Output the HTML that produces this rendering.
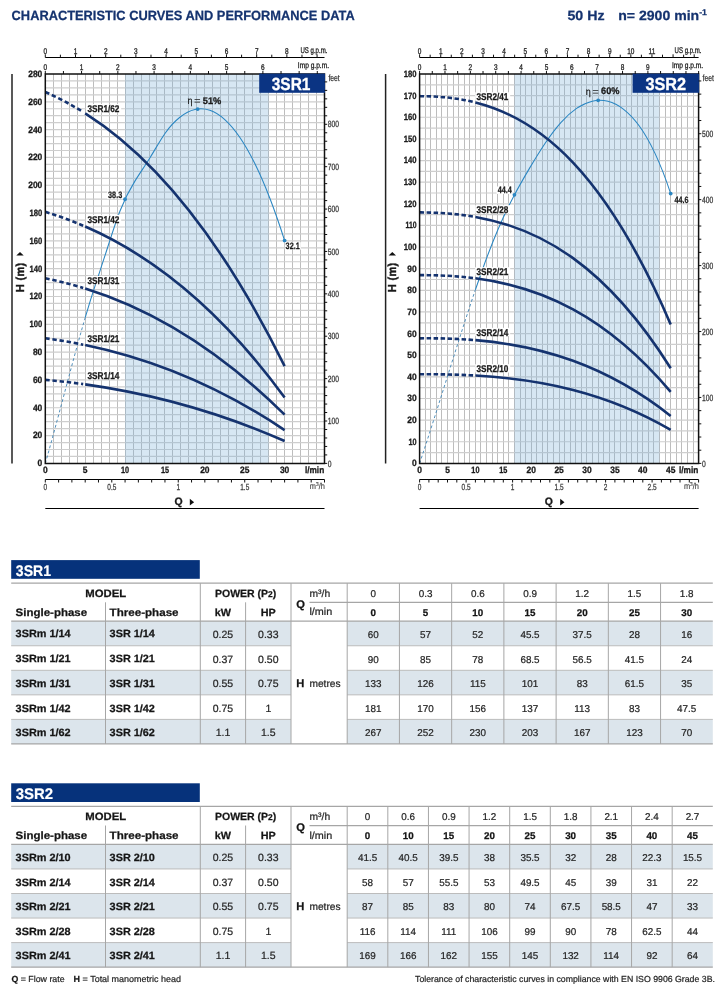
<!DOCTYPE html>
<html lang="en"><head><meta charset="utf-8"><title>Characteristic curves and performance data</title>
<style>
html,body{margin:0;padding:0;background:#fff}
body{width:723px;height:996px;position:relative;overflow:hidden;will-change:transform;font-family:"Liberation Sans", sans-serif;color:#222}
svg{position:absolute;left:0;top:0;display:block}
</style></head><body>
<svg width="723" height="996" viewBox="0 0 723 996" text-rendering="geometricPrecision" font-family='"Liberation Sans", sans-serif'>
<g id="header"><text transform="translate(11.6,19.6) scale(0.958,1)" font-size="13.4" font-weight="bold" text-anchor="start" fill="#15336f" stroke="#15336f" stroke-width="0.25">CHARACTERISTIC CURVES AND PERFORMANCE DATA</text><text transform="translate(567.4,20) scale(1.06,1)" font-size="13.4" font-weight="bold" text-anchor="start" fill="#15336f" stroke="#15336f" stroke-width="0.25">50 Hz</text><text transform="translate(706.9,20) scale(1.05,1)" font-size="13.4" font-weight="bold" text-anchor="end" fill="#15336f" stroke="#15336f" stroke-width="0.25">n= 2900 min<tspan font-size="8.3" dy="-4.6">-1</tspan><tspan dy="4.6"></tspan></text></g>
<g id="charts">
<rect x="45.3" y="74" width="279.2" height="389.4" fill="#fff"/>
<path d="M53.5,74V463.4M61.5,74V463.4M69.5,74V463.4M77.5,74V463.4M85.5,74V463.4M93.5,74V463.4M101.5,74V463.4M109.5,74V463.4M117.5,74V463.4M125.5,74V463.4M133.5,74V463.4M141.5,74V463.4M149.5,74V463.4M156.5,74V463.4M164.5,74V463.4M172.5,74V463.4M180.5,74V463.4M188.5,74V463.4M196.5,74V463.4M204.5,74V463.4M212.5,74V463.4M220.5,74V463.4M228.5,74V463.4M236.5,74V463.4M244.5,74V463.4M252.5,74V463.4M260.5,74V463.4M268.5,74V463.4M276.5,74V463.4M284.5,74V463.4M292.5,74V463.4M300.5,74V463.4M308.5,74V463.4M316.5,74V463.4" stroke="#bdbdbd" stroke-width="1" fill="none"/>
<path d="M45.3,456.45H324.5M45.3,449.49H324.5M45.3,442.54H324.5M45.3,435.59H324.5M45.3,428.63H324.5M45.3,421.68H324.5M45.3,414.72H324.5M45.3,407.77H324.5M45.3,400.82H324.5M45.3,393.86H324.5M45.3,386.91H324.5M45.3,379.96H324.5M45.3,373H324.5M45.3,366.05H324.5M45.3,359.1H324.5M45.3,352.14H324.5M45.3,345.19H324.5M45.3,338.24H324.5M45.3,331.28H324.5M45.3,324.33H324.5M45.3,317.38H324.5M45.3,310.42H324.5M45.3,303.47H324.5M45.3,296.51H324.5M45.3,289.56H324.5M45.3,282.61H324.5M45.3,275.65H324.5M45.3,268.7H324.5M45.3,261.75H324.5M45.3,254.79H324.5M45.3,247.84H324.5M45.3,240.89H324.5M45.3,233.93H324.5M45.3,226.98H324.5M45.3,220.03H324.5M45.3,213.07H324.5M45.3,206.12H324.5M45.3,199.16H324.5M45.3,192.21H324.5M45.3,185.26H324.5M45.3,178.3H324.5M45.3,171.35H324.5M45.3,164.4H324.5M45.3,157.44H324.5M45.3,150.49H324.5M45.3,143.54H324.5M45.3,136.58H324.5M45.3,129.63H324.5M45.3,122.68H324.5M45.3,115.72H324.5M45.3,108.77H324.5M45.3,101.81H324.5M45.3,94.86H324.5M45.3,87.91H324.5M45.3,80.95H324.5" stroke="#cecece" stroke-width="1.2" fill="none"/>
<rect x="125.07" y="74" width="143.59" height="389.4" fill="#7fb2d8" fill-opacity="0.31"/>
<path d="M45.3,463.4 C50.29,445.93 55.27,427.5 60.26,408.87 C65.24,390.24 70.23,371.41 75.21,353.15 C78.54,340.97 81.86,329.04 85.19,317.67" stroke="#3f85b5" stroke-width="0.9" fill="none" stroke-dasharray="2.9 2.4"/>
<path d="M85.19,317.67 C86.85,311.99 88.51,306.45 90.17,301.09 C95.16,285.02 100.14,270.58 105.13,255.19 C110.11,239.79 115.1,223.43 120.09,210.72 C125.07,198.01 130.06,188.94 135.04,180.9 C140.03,172.85 145.01,165.82 150,157.76 C154.99,149.7 159.97,140.61 164.96,133.48 C169.94,126.34 174.93,121.17 179.91,117.27 C184.9,113.37 189.89,110.74 194.87,109.56 C199.86,108.39 204.84,108.66 209.83,110.34 C214.81,112.02 219.8,115.09 224.79,119.57 C229.77,124.06 234.76,129.95 239.74,137.24 C244.73,144.53 249.71,153.22 254.7,163.31 C259.69,173.4 264.67,184.89 269.66,197.77 C274.64,210.65 279.63,224.93 284.61,240.59" stroke="#2a86c2" stroke-width="1.05" fill="none"/>
<circle cx="125.07" cy="199.13" r="1.9" fill="#2a86c2"/>
<circle cx="197.66" cy="109.06" r="1.9" fill="#2a86c2"/>
<circle cx="284.61" cy="240.59" r="1.9" fill="#2a86c2"/>
<path d="M45.3,379.84 C57.93,380.96 70.56,382.38 83.19,384.12" stroke="#15336f" stroke-width="2.6" fill="none" stroke-dasharray="4.4 2.8"/>
<path d="M85.19,384.39 C151.66,393.7 218.14,411.77 284.61,441.02" stroke="#15336f" stroke-width="2.6" fill="none"/>
<path d="M45.3,338.29 C57.93,339.97 70.56,342.08 83.19,344.66" stroke="#15336f" stroke-width="2.6" fill="none" stroke-dasharray="4.4 2.8"/>
<path d="M85.19,345.07 C151.66,358.9 218.14,385.63 284.61,430.09" stroke="#15336f" stroke-width="2.6" fill="none"/>
<path d="M45.3,278.3 C57.93,280.86 70.56,284.04 83.19,287.9" stroke="#15336f" stroke-width="2.6" fill="none" stroke-dasharray="4.4 2.8"/>
<path d="M85.19,288.52 C151.66,309.23 218.14,348.84 284.61,414.59" stroke="#15336f" stroke-width="2.6" fill="none"/>
<path d="M45.3,211.85 C57.93,215.73 70.56,220.31 83.19,225.69" stroke="#15336f" stroke-width="2.6" fill="none" stroke-dasharray="4.4 2.8"/>
<path d="M85.19,226.55 C151.66,255.34 218.14,306.68 284.61,397.49" stroke="#15336f" stroke-width="2.6" fill="none"/>
<path d="M45.3,92.01 C57.93,97.58 70.56,104.2 83.19,112.05" stroke="#15336f" stroke-width="2.6" fill="none" stroke-dasharray="4.4 2.8"/>
<path d="M85.19,113.3 C151.66,155.31 218.14,231.53 284.61,366.12" stroke="#15336f" stroke-width="2.6" fill="none"/>
<path d="M45.3,74H324.5V463.4H45.3Z" stroke="#111" stroke-width="1.5" fill="none"/>
<rect x="259.2" y="73.6" width="65.8" height="19.2" fill="#0b3483"/>
<text transform="translate(291.05,89.5) scale(0.88,1)" font-size="17.6" font-weight="bold" text-anchor="middle" fill="#fff" stroke="#fff" stroke-width="0.3">3SR1</text>
<path d="M12,74V463.4" stroke="#222" stroke-width="1.5"/>
<text transform="translate(42.3,466.3) scale(0.919,1)" font-size="9.2" font-weight="bold" text-anchor="end" fill="#1a1a1a" stroke="#1a1a1a" stroke-width="0.3">0</text>
<text transform="translate(42.3,438.49) scale(0.919,1)" font-size="9.2" font-weight="bold" text-anchor="end" fill="#1a1a1a" stroke="#1a1a1a" stroke-width="0.3">20</text>
<text transform="translate(42.3,410.67) scale(0.919,1)" font-size="9.2" font-weight="bold" text-anchor="end" fill="#1a1a1a" stroke="#1a1a1a" stroke-width="0.3">40</text>
<text transform="translate(42.3,382.86) scale(0.919,1)" font-size="9.2" font-weight="bold" text-anchor="end" fill="#1a1a1a" stroke="#1a1a1a" stroke-width="0.3">60</text>
<text transform="translate(42.3,355.04) scale(0.919,1)" font-size="9.2" font-weight="bold" text-anchor="end" fill="#1a1a1a" stroke="#1a1a1a" stroke-width="0.3">80</text>
<text transform="translate(42.3,327.23) scale(0.834,1)" font-size="9.2" font-weight="bold" text-anchor="end" fill="#1a1a1a" stroke="#1a1a1a" stroke-width="0.3">100</text>
<text transform="translate(42.3,299.41) scale(0.834,1)" font-size="9.2" font-weight="bold" text-anchor="end" fill="#1a1a1a" stroke="#1a1a1a" stroke-width="0.3">120</text>
<text transform="translate(42.3,271.6) scale(0.834,1)" font-size="9.2" font-weight="bold" text-anchor="end" fill="#1a1a1a" stroke="#1a1a1a" stroke-width="0.3">140</text>
<text transform="translate(42.3,243.79) scale(0.834,1)" font-size="9.2" font-weight="bold" text-anchor="end" fill="#1a1a1a" stroke="#1a1a1a" stroke-width="0.3">160</text>
<text transform="translate(42.3,215.97) scale(0.834,1)" font-size="9.2" font-weight="bold" text-anchor="end" fill="#1a1a1a" stroke="#1a1a1a" stroke-width="0.3">180</text>
<text transform="translate(42.3,188.16) scale(0.919,1)" font-size="9.2" font-weight="bold" text-anchor="end" fill="#1a1a1a" stroke="#1a1a1a" stroke-width="0.3">200</text>
<text transform="translate(42.3,160.34) scale(0.919,1)" font-size="9.2" font-weight="bold" text-anchor="end" fill="#1a1a1a" stroke="#1a1a1a" stroke-width="0.3">220</text>
<text transform="translate(42.3,132.53) scale(0.919,1)" font-size="9.2" font-weight="bold" text-anchor="end" fill="#1a1a1a" stroke="#1a1a1a" stroke-width="0.3">240</text>
<text transform="translate(42.3,104.71) scale(0.919,1)" font-size="9.2" font-weight="bold" text-anchor="end" fill="#1a1a1a" stroke="#1a1a1a" stroke-width="0.3">260</text>
<text transform="translate(42.3,76.9) scale(0.919,1)" font-size="9.2" font-weight="bold" text-anchor="end" fill="#1a1a1a" stroke="#1a1a1a" stroke-width="0.3">280</text>
<text transform="translate(45.3,472.7) scale(0.919,1)" font-size="9.2" font-weight="bold" text-anchor="middle" fill="#1a1a1a" stroke="#1a1a1a" stroke-width="0.3">0</text>
<text transform="translate(85.19,472.7) scale(0.919,1)" font-size="9.2" font-weight="bold" text-anchor="middle" fill="#1a1a1a" stroke="#1a1a1a" stroke-width="0.3">5</text>
<text transform="translate(125.07,472.7) scale(0.792,1)" font-size="9.2" font-weight="bold" text-anchor="middle" fill="#1a1a1a" stroke="#1a1a1a" stroke-width="0.3">10</text>
<text transform="translate(164.96,472.7) scale(0.792,1)" font-size="9.2" font-weight="bold" text-anchor="middle" fill="#1a1a1a" stroke="#1a1a1a" stroke-width="0.3">15</text>
<text transform="translate(204.84,472.7) scale(0.919,1)" font-size="9.2" font-weight="bold" text-anchor="middle" fill="#1a1a1a" stroke="#1a1a1a" stroke-width="0.3">20</text>
<text transform="translate(244.73,472.7) scale(0.919,1)" font-size="9.2" font-weight="bold" text-anchor="middle" fill="#1a1a1a" stroke="#1a1a1a" stroke-width="0.3">25</text>
<text transform="translate(284.61,472.7) scale(0.919,1)" font-size="9.2" font-weight="bold" text-anchor="middle" fill="#1a1a1a" stroke="#1a1a1a" stroke-width="0.3">30</text>
<text transform="translate(324.2,472.7) scale(0.9,1)" font-size="9.2" font-weight="bold" text-anchor="end" fill="#1a1a1a" stroke="#1a1a1a" stroke-width="0.3">l/min</text>
<rect x="86.2" y="104" width="35" height="8.3" fill="#fff"/>
<text transform="translate(87.4,112.1) scale(0.84,1)" font-size="9.8" font-weight="bold" text-anchor="start" fill="#1a1a1a" stroke="#1a1a1a" stroke-width="0.3">3SR1/62</text>
<rect x="86.2" y="214.8" width="35" height="8.3" fill="#fff"/>
<text transform="translate(87.4,222.9) scale(0.84,1)" font-size="9.8" font-weight="bold" text-anchor="start" fill="#1a1a1a" stroke="#1a1a1a" stroke-width="0.3">3SR1/42</text>
<rect x="86.2" y="276" width="35" height="8.3" fill="#fff"/>
<text transform="translate(87.4,284.1) scale(0.84,1)" font-size="9.8" font-weight="bold" text-anchor="start" fill="#1a1a1a" stroke="#1a1a1a" stroke-width="0.3">3SR1/31</text>
<rect x="86.2" y="334.2" width="35" height="8.3" fill="#fff"/>
<text transform="translate(87.4,342.3) scale(0.84,1)" font-size="9.8" font-weight="bold" text-anchor="start" fill="#1a1a1a" stroke="#1a1a1a" stroke-width="0.3">3SR1/21</text>
<rect x="86.2" y="371.2" width="35" height="8.3" fill="#fff"/>
<text transform="translate(87.4,379.3) scale(0.84,1)" font-size="9.8" font-weight="bold" text-anchor="start" fill="#1a1a1a" stroke="#1a1a1a" stroke-width="0.3">3SR1/14</text>
<rect x="107" y="191.4" width="16" height="7.4" fill="#fff"/>
<text transform="translate(122.2,198.3) scale(0.78,1)" font-size="9.3" font-weight="bold" text-anchor="end" fill="#1a1a1a" stroke="#1a1a1a" stroke-width="0.25">38.3</text>
<rect x="284.8" y="242.2" width="16" height="7.4" fill="#fff"/>
<text transform="translate(285.6,249.1) scale(0.78,1)" font-size="9.3" font-weight="bold" text-anchor="start" fill="#1a1a1a" stroke="#1a1a1a" stroke-width="0.25">32.1</text>
<text transform="translate(187.5,104) scale(0.88,1)" font-size="10.2" font-weight="normal" text-anchor="start" fill="#1a1a1a" stroke="#1a1a1a" stroke-width="0.2">η</text>
<text transform="translate(193.9,104) scale(1.18,1)" font-size="9.6" font-weight="normal" text-anchor="start" fill="#1a1a1a" >=</text>
<text transform="translate(202.8,103.7) scale(0.96,1)" font-size="9.6" font-weight="bold" text-anchor="start" fill="#1a1a1a" stroke="#1a1a1a" stroke-width="0.3">51%</text>
<path d="M45.3,57.5H324.5" stroke="#000" stroke-width="1.1"/>
<text transform="translate(45.3,54) scale(0.78,1)" font-size="8.3" font-weight="normal" text-anchor="middle" fill="#222" stroke="#222" stroke-width="0.3">0</text>
<text transform="translate(75.5,54) scale(0.78,1)" font-size="8.3" font-weight="normal" text-anchor="middle" fill="#222" stroke="#222" stroke-width="0.3">1</text>
<text transform="translate(105.69,54) scale(0.78,1)" font-size="8.3" font-weight="normal" text-anchor="middle" fill="#222" stroke="#222" stroke-width="0.3">2</text>
<text transform="translate(135.89,54) scale(0.78,1)" font-size="8.3" font-weight="normal" text-anchor="middle" fill="#222" stroke="#222" stroke-width="0.3">3</text>
<text transform="translate(166.09,54) scale(0.78,1)" font-size="8.3" font-weight="normal" text-anchor="middle" fill="#222" stroke="#222" stroke-width="0.3">4</text>
<text transform="translate(196.28,54) scale(0.78,1)" font-size="8.3" font-weight="normal" text-anchor="middle" fill="#222" stroke="#222" stroke-width="0.3">5</text>
<text transform="translate(226.48,54) scale(0.78,1)" font-size="8.3" font-weight="normal" text-anchor="middle" fill="#222" stroke="#222" stroke-width="0.3">6</text>
<text transform="translate(256.68,54) scale(0.78,1)" font-size="8.3" font-weight="normal" text-anchor="middle" fill="#222" stroke="#222" stroke-width="0.3">7</text>
<text transform="translate(286.87,54) scale(0.78,1)" font-size="8.3" font-weight="normal" text-anchor="middle" fill="#222" stroke="#222" stroke-width="0.3">8</text>
<path d="M45.3,57.5v-3.2M60.4,57.5v-2.8M75.5,57.5v-3.2M90.6,57.5v-2.8M105.69,57.5v-3.2M120.79,57.5v-2.8M135.89,57.5v-3.2M150.99,57.5v-2.8M166.09,57.5v-3.2M181.19,57.5v-2.8M196.28,57.5v-3.2M211.38,57.5v-2.8M226.48,57.5v-3.2M241.58,57.5v-2.8M256.68,57.5v-3.2M271.78,57.5v-2.8M286.87,57.5v-3.2M301.97,57.5v-2.8M317.07,57.5v-3.2" stroke="#111" stroke-width="1"/>
<text transform="translate(327.4,52.9) scale(0.73,1)" font-size="8.3" font-weight="normal" text-anchor="end" fill="#222" stroke="#222" stroke-width="0.3">US g.p.m.</text>
<text transform="translate(45.3,70.2) scale(0.78,1)" font-size="8.3" font-weight="normal" text-anchor="middle" fill="#222" stroke="#222" stroke-width="0.3">0</text>
<text transform="translate(81.56,70.2) scale(0.78,1)" font-size="8.3" font-weight="normal" text-anchor="middle" fill="#222" stroke="#222" stroke-width="0.3">1</text>
<text transform="translate(117.83,70.2) scale(0.78,1)" font-size="8.3" font-weight="normal" text-anchor="middle" fill="#222" stroke="#222" stroke-width="0.3">2</text>
<text transform="translate(154.09,70.2) scale(0.78,1)" font-size="8.3" font-weight="normal" text-anchor="middle" fill="#222" stroke="#222" stroke-width="0.3">3</text>
<text transform="translate(190.36,70.2) scale(0.78,1)" font-size="8.3" font-weight="normal" text-anchor="middle" fill="#222" stroke="#222" stroke-width="0.3">4</text>
<text transform="translate(226.62,70.2) scale(0.78,1)" font-size="8.3" font-weight="normal" text-anchor="middle" fill="#222" stroke="#222" stroke-width="0.3">5</text>
<text transform="translate(262.89,70.2) scale(0.78,1)" font-size="8.3" font-weight="normal" text-anchor="middle" fill="#222" stroke="#222" stroke-width="0.3">6</text>
<path d="M45.3,74v-3M63.43,74v-3M81.56,74v-3M99.7,74v-3M117.83,74v-3M135.96,74v-3M154.09,74v-3M172.23,74v-3M190.36,74v-3M208.49,74v-3M226.62,74v-3M244.76,74v-3M262.89,74v-3M281.02,74v-3M299.15,74v-3M317.29,74v-3" stroke="#111" stroke-width="1"/>
<text transform="translate(329,67.8) scale(0.795,1)" font-size="8.3" font-weight="normal" text-anchor="end" fill="#222" stroke="#222" stroke-width="0.3">Imp g.p.m.</text>
<text transform="translate(327.8,466.5) scale(0.75,1)" font-size="9.0" font-weight="normal" text-anchor="start" fill="#333" stroke="#333" stroke-width="0.25">0</text>
<text transform="translate(327.8,424.11) scale(0.75,1)" font-size="9.0" font-weight="normal" text-anchor="start" fill="#333" stroke="#333" stroke-width="0.25">100</text>
<text transform="translate(327.8,381.72) scale(0.75,1)" font-size="9.0" font-weight="normal" text-anchor="start" fill="#333" stroke="#333" stroke-width="0.25">200</text>
<text transform="translate(327.8,339.33) scale(0.75,1)" font-size="9.0" font-weight="normal" text-anchor="start" fill="#333" stroke="#333" stroke-width="0.25">300</text>
<text transform="translate(327.8,296.94) scale(0.75,1)" font-size="9.0" font-weight="normal" text-anchor="start" fill="#333" stroke="#333" stroke-width="0.25">400</text>
<text transform="translate(327.8,254.56) scale(0.75,1)" font-size="9.0" font-weight="normal" text-anchor="start" fill="#333" stroke="#333" stroke-width="0.25">500</text>
<text transform="translate(327.8,212.17) scale(0.75,1)" font-size="9.0" font-weight="normal" text-anchor="start" fill="#333" stroke="#333" stroke-width="0.25">600</text>
<text transform="translate(327.8,169.78) scale(0.75,1)" font-size="9.0" font-weight="normal" text-anchor="start" fill="#333" stroke="#333" stroke-width="0.25">700</text>
<text transform="translate(327.8,127.39) scale(0.75,1)" font-size="9.0" font-weight="normal" text-anchor="start" fill="#333" stroke="#333" stroke-width="0.25">800</text>
<path d="M324.5,463.4h2.7M324.5,454.92h2.7M324.5,446.44h2.7M324.5,437.97h2.7M324.5,429.49h2.7M324.5,421.01h2.7M324.5,412.53h2.7M324.5,404.06h2.7M324.5,395.58h2.7M324.5,387.1h2.7M324.5,378.62h2.7M324.5,370.14h2.7M324.5,361.67h2.7M324.5,353.19h2.7M324.5,344.71h2.7M324.5,336.23h2.7M324.5,327.76h2.7M324.5,319.28h2.7M324.5,310.8h2.7M324.5,302.32h2.7M324.5,293.84h2.7M324.5,285.37h2.7M324.5,276.89h2.7M324.5,268.41h2.7M324.5,259.93h2.7M324.5,251.46h2.7M324.5,242.98h2.7M324.5,234.5h2.7M324.5,226.02h2.7M324.5,217.54h2.7M324.5,209.07h2.7M324.5,200.59h2.7M324.5,192.11h2.7M324.5,183.63h2.7M324.5,175.15h2.7M324.5,166.68h2.7M324.5,158.2h2.7M324.5,149.72h2.7M324.5,141.24h2.7M324.5,132.77h2.7M324.5,124.29h2.7M324.5,115.81h2.7M324.5,107.33h2.7M324.5,98.85h2.7M324.5,90.38h2.7M324.5,81.9h2.7" stroke="#111" stroke-width="1"/>
<text transform="translate(328.4,80.8) scale(0.75,1)" font-size="9.0" font-weight="normal" text-anchor="start" fill="#333" stroke="#333" stroke-width="0.25">feet</text>
<path d="M45.3,479.5H324.5" stroke="#000" stroke-width="1.1"/>
<text transform="translate(45.3,489.8) scale(0.74,1)" font-size="8.8" font-weight="normal" text-anchor="middle" fill="#3a3a3a" stroke="#3a3a3a" stroke-width="0.25">0</text>
<text transform="translate(111.78,489.8) scale(0.74,1)" font-size="8.8" font-weight="normal" text-anchor="middle" fill="#3a3a3a" stroke="#3a3a3a" stroke-width="0.25">0.5</text>
<text transform="translate(178.25,489.8) scale(0.74,1)" font-size="8.8" font-weight="normal" text-anchor="middle" fill="#3a3a3a" stroke="#3a3a3a" stroke-width="0.25">1</text>
<text transform="translate(244.73,489.8) scale(0.74,1)" font-size="8.8" font-weight="normal" text-anchor="middle" fill="#3a3a3a" stroke="#3a3a3a" stroke-width="0.25">1.5</text>
<path d="M45.3,479.5v3M58.6,479.5v3M71.89,479.5v3M85.19,479.5v3M98.48,479.5v3M111.78,479.5v3M125.07,479.5v3M138.37,479.5v3M151.66,479.5v3M164.96,479.5v3M178.25,479.5v3M191.55,479.5v3M204.84,479.5v3M218.14,479.5v3M231.43,479.5v3M244.73,479.5v3M258.02,479.5v3M271.32,479.5v3M284.61,479.5v3M297.91,479.5v3M311.2,479.5v3M324.5,479.5v3" stroke="#111" stroke-width="1"/>
<text transform="translate(324.8,489.1) scale(0.86,1)" font-size="8.6" text-anchor="end" fill="#444" stroke="#444" stroke-width="0.15">m<tspan font-size="5.6" dy="-3">3</tspan><tspan dy="3">/h</tspan></text>
<text transform="translate(174.4,505.4) scale(0.97,1)" font-size="10.8" font-weight="bold" text-anchor="start" fill="#1a1a1a" stroke="#1a1a1a" stroke-width="0.3">Q</text>
<path d="M189.8,498.8v6.8l4.3,-3.4z" fill="#111"/>
<path d="M45.3,508.5H324.5" stroke="#000" stroke-width="1.1"/>
<text transform="translate(24.1,292.2) rotate(-90) scale(0.95,1)" font-size="11.6" font-weight="bold" fill="#1a1a1a" stroke="#1a1a1a" stroke-width="0.4" letter-spacing="0.35">H (m)</text>
<path d="M16.3,255.4h7.4l-3.7,-3.5z" fill="#111"/>
<rect x="419.6" y="74" width="279" height="389.4" fill="#fff"/>
<path d="M425.5,74V463.4M430.5,74V463.4M436.5,74V463.4M441.5,74V463.4M447.5,74V463.4M453.5,74V463.4M458.5,74V463.4M464.5,74V463.4M469.5,74V463.4M475.5,74V463.4M480.5,74V463.4M486.5,74V463.4M492.5,74V463.4M497.5,74V463.4M503.5,74V463.4M508.5,74V463.4M514.5,74V463.4M520.5,74V463.4M525.5,74V463.4M531.5,74V463.4M536.5,74V463.4M542.5,74V463.4M547.5,74V463.4M553.5,74V463.4M559.5,74V463.4M564.5,74V463.4M570.5,74V463.4M575.5,74V463.4M581.5,74V463.4M586.5,74V463.4M592.5,74V463.4M598.5,74V463.4M603.5,74V463.4M609.5,74V463.4M614.5,74V463.4M620.5,74V463.4M626.5,74V463.4M631.5,74V463.4M637.5,74V463.4M642.5,74V463.4M648.5,74V463.4M653.5,74V463.4M659.5,74V463.4M665.5,74V463.4M670.5,74V463.4M676.5,74V463.4M681.5,74V463.4M687.5,74V463.4M693.5,74V463.4" stroke="#bdbdbd" stroke-width="1" fill="none"/>
<path d="M419.6,452.58H698.6M419.6,441.77H698.6M419.6,430.95H698.6M419.6,420.13H698.6M419.6,409.32H698.6M419.6,398.5H698.6M419.6,387.68H698.6M419.6,376.87H698.6M419.6,366.05H698.6M419.6,355.23H698.6M419.6,344.42H698.6M419.6,333.6H698.6M419.6,322.78H698.6M419.6,311.97H698.6M419.6,301.15H698.6M419.6,290.33H698.6M419.6,279.52H698.6M419.6,268.7H698.6M419.6,257.88H698.6M419.6,247.07H698.6M419.6,236.25H698.6M419.6,225.43H698.6M419.6,214.62H698.6M419.6,203.8H698.6M419.6,192.98H698.6M419.6,182.17H698.6M419.6,171.35H698.6M419.6,160.53H698.6M419.6,149.72H698.6M419.6,138.9H698.6M419.6,128.08H698.6M419.6,117.27H698.6M419.6,106.45H698.6M419.6,95.63H698.6M419.6,84.82H698.6" stroke="#cecece" stroke-width="1.2" fill="none"/>
<rect x="514.46" y="74" width="145.08" height="389.4" fill="#7fb2d8" fill-opacity="0.31"/>
<path d="M419.6,463.4 C424.83,447.73 430.06,431.49 435.29,415.01 C440.53,398.54 445.76,381.82 450.99,365.21 C456.22,348.59 461.45,332.08 466.68,316.01 C469.59,307.09 472.49,298.31 475.4,289.76" stroke="#3f85b5" stroke-width="0.9" fill="none" stroke-dasharray="2.9 2.4"/>
<path d="M475.4,289.76 C477.73,282.91 480.05,276.22 482.38,269.71 C487.61,255.08 492.84,241.42 498.07,229.18 C503.3,216.94 508.53,206.13 513.76,196.19 C518.99,186.25 524.23,177.19 529.46,168.38 C534.69,159.58 539.92,151.04 545.15,143.25 C550.38,135.47 555.61,128.45 560.84,122.57 C566.08,116.69 571.31,111.95 576.54,108.37 C581.77,104.78 587,102.35 592.23,101.15 C597.46,99.95 602.69,99.99 607.92,101.33 C613.16,102.66 618.39,105.28 623.62,109.31 C628.85,113.34 634.08,118.77 639.31,126 C644.54,133.22 649.78,142.23 655.01,153.38 C660.24,164.52 665.47,177.81 670.7,193.57" stroke="#2a86c2" stroke-width="1.05" fill="none"/>
<circle cx="514.46" cy="194.87" r="1.9" fill="#2a86c2"/>
<circle cx="598.16" cy="100.33" r="1.9" fill="#2a86c2"/>
<circle cx="670.7" cy="193.57" r="1.9" fill="#2a86c2"/>
<path d="M419.6,374.23 C437.74,374.17 455.87,374.47 474,375.47" stroke="#15336f" stroke-width="2.6" fill="none" stroke-dasharray="4.5 2.5"/>
<path d="M475.4,375.54 C540.5,379.26 605.6,392.11 670.7,429.81" stroke="#15336f" stroke-width="2.6" fill="none"/>
<path d="M419.6,338.34 C437.74,338.15 455.87,338.59 474,340.06" stroke="#15336f" stroke-width="2.6" fill="none" stroke-dasharray="4.5 2.5"/>
<path d="M475.4,340.17 C540.5,345.64 605.6,364.53 670.7,415.96" stroke="#15336f" stroke-width="2.6" fill="none"/>
<path d="M419.6,275.15 C437.74,275.07 455.87,275.86 474,278.14" stroke="#15336f" stroke-width="2.6" fill="none" stroke-dasharray="4.5 2.5"/>
<path d="M475.4,278.32 C540.5,286.8 605.6,314.82 670.7,391.9" stroke="#15336f" stroke-width="2.6" fill="none"/>
<path d="M419.6,212.38 C437.74,212.48 455.87,213.62 474,216.69" stroke="#15336f" stroke-width="2.6" fill="none" stroke-dasharray="4.5 2.5"/>
<path d="M475.4,216.93 C540.5,228.34 605.6,264.99 670.7,368.22" stroke="#15336f" stroke-width="2.6" fill="none"/>
<path d="M419.6,96.17 C437.74,96.16 455.87,97.71 474,102.12" stroke="#15336f" stroke-width="2.6" fill="none" stroke-dasharray="4.5 2.5"/>
<path d="M475.4,102.46 C540.5,118.83 605.6,172.55 670.7,324.4" stroke="#15336f" stroke-width="2.6" fill="none"/>
<path d="M419.6,74H698.6V463.4H419.6Z" stroke="#111" stroke-width="1.5" fill="none"/>
<rect x="632.6" y="73.6" width="66.5" height="19.2" fill="#0b3483"/>
<text transform="translate(665.8,89.5) scale(0.925,1)" font-size="17.6" font-weight="bold" text-anchor="middle" fill="#fff" stroke="#fff" stroke-width="0.3">3SR2</text>
<path d="M385.6,74V463.4" stroke="#222" stroke-width="1.5"/>
<text transform="translate(416.6,466.3) scale(0.919,1)" font-size="9.2" font-weight="bold" text-anchor="end" fill="#1a1a1a" stroke="#1a1a1a" stroke-width="0.3">0</text>
<text transform="translate(416.6,444.67) scale(0.792,1)" font-size="9.2" font-weight="bold" text-anchor="end" fill="#1a1a1a" stroke="#1a1a1a" stroke-width="0.3">10</text>
<text transform="translate(416.6,423.03) scale(0.919,1)" font-size="9.2" font-weight="bold" text-anchor="end" fill="#1a1a1a" stroke="#1a1a1a" stroke-width="0.3">20</text>
<text transform="translate(416.6,401.4) scale(0.919,1)" font-size="9.2" font-weight="bold" text-anchor="end" fill="#1a1a1a" stroke="#1a1a1a" stroke-width="0.3">30</text>
<text transform="translate(416.6,379.77) scale(0.919,1)" font-size="9.2" font-weight="bold" text-anchor="end" fill="#1a1a1a" stroke="#1a1a1a" stroke-width="0.3">40</text>
<text transform="translate(416.6,358.13) scale(0.919,1)" font-size="9.2" font-weight="bold" text-anchor="end" fill="#1a1a1a" stroke="#1a1a1a" stroke-width="0.3">50</text>
<text transform="translate(416.6,336.5) scale(0.919,1)" font-size="9.2" font-weight="bold" text-anchor="end" fill="#1a1a1a" stroke="#1a1a1a" stroke-width="0.3">60</text>
<text transform="translate(416.6,314.87) scale(0.919,1)" font-size="9.2" font-weight="bold" text-anchor="end" fill="#1a1a1a" stroke="#1a1a1a" stroke-width="0.3">70</text>
<text transform="translate(416.6,293.23) scale(0.919,1)" font-size="9.2" font-weight="bold" text-anchor="end" fill="#1a1a1a" stroke="#1a1a1a" stroke-width="0.3">80</text>
<text transform="translate(416.6,271.6) scale(0.919,1)" font-size="9.2" font-weight="bold" text-anchor="end" fill="#1a1a1a" stroke="#1a1a1a" stroke-width="0.3">90</text>
<text transform="translate(416.6,249.97) scale(0.834,1)" font-size="9.2" font-weight="bold" text-anchor="end" fill="#1a1a1a" stroke="#1a1a1a" stroke-width="0.3">100</text>
<text transform="translate(416.6,228.33) scale(0.749,1)" font-size="9.2" font-weight="bold" text-anchor="end" fill="#1a1a1a" stroke="#1a1a1a" stroke-width="0.3">110</text>
<text transform="translate(416.6,206.7) scale(0.834,1)" font-size="9.2" font-weight="bold" text-anchor="end" fill="#1a1a1a" stroke="#1a1a1a" stroke-width="0.3">120</text>
<text transform="translate(416.6,185.07) scale(0.834,1)" font-size="9.2" font-weight="bold" text-anchor="end" fill="#1a1a1a" stroke="#1a1a1a" stroke-width="0.3">130</text>
<text transform="translate(416.6,163.43) scale(0.834,1)" font-size="9.2" font-weight="bold" text-anchor="end" fill="#1a1a1a" stroke="#1a1a1a" stroke-width="0.3">140</text>
<text transform="translate(416.6,141.8) scale(0.834,1)" font-size="9.2" font-weight="bold" text-anchor="end" fill="#1a1a1a" stroke="#1a1a1a" stroke-width="0.3">150</text>
<text transform="translate(416.6,120.17) scale(0.834,1)" font-size="9.2" font-weight="bold" text-anchor="end" fill="#1a1a1a" stroke="#1a1a1a" stroke-width="0.3">160</text>
<text transform="translate(416.6,98.53) scale(0.834,1)" font-size="9.2" font-weight="bold" text-anchor="end" fill="#1a1a1a" stroke="#1a1a1a" stroke-width="0.3">170</text>
<text transform="translate(416.6,76.9) scale(0.834,1)" font-size="9.2" font-weight="bold" text-anchor="end" fill="#1a1a1a" stroke="#1a1a1a" stroke-width="0.3">180</text>
<text transform="translate(419.6,472.7) scale(0.919,1)" font-size="9.2" font-weight="bold" text-anchor="middle" fill="#1a1a1a" stroke="#1a1a1a" stroke-width="0.3">0</text>
<text transform="translate(447.5,472.7) scale(0.919,1)" font-size="9.2" font-weight="bold" text-anchor="middle" fill="#1a1a1a" stroke="#1a1a1a" stroke-width="0.3">5</text>
<text transform="translate(475.4,472.7) scale(0.792,1)" font-size="9.2" font-weight="bold" text-anchor="middle" fill="#1a1a1a" stroke="#1a1a1a" stroke-width="0.3">10</text>
<text transform="translate(503.3,472.7) scale(0.792,1)" font-size="9.2" font-weight="bold" text-anchor="middle" fill="#1a1a1a" stroke="#1a1a1a" stroke-width="0.3">15</text>
<text transform="translate(531.2,472.7) scale(0.919,1)" font-size="9.2" font-weight="bold" text-anchor="middle" fill="#1a1a1a" stroke="#1a1a1a" stroke-width="0.3">20</text>
<text transform="translate(559.1,472.7) scale(0.919,1)" font-size="9.2" font-weight="bold" text-anchor="middle" fill="#1a1a1a" stroke="#1a1a1a" stroke-width="0.3">25</text>
<text transform="translate(587,472.7) scale(0.919,1)" font-size="9.2" font-weight="bold" text-anchor="middle" fill="#1a1a1a" stroke="#1a1a1a" stroke-width="0.3">30</text>
<text transform="translate(614.9,472.7) scale(0.919,1)" font-size="9.2" font-weight="bold" text-anchor="middle" fill="#1a1a1a" stroke="#1a1a1a" stroke-width="0.3">35</text>
<text transform="translate(642.8,472.7) scale(0.919,1)" font-size="9.2" font-weight="bold" text-anchor="middle" fill="#1a1a1a" stroke="#1a1a1a" stroke-width="0.3">40</text>
<text transform="translate(670.7,472.7) scale(0.919,1)" font-size="9.2" font-weight="bold" text-anchor="middle" fill="#1a1a1a" stroke="#1a1a1a" stroke-width="0.3">45</text>
<text transform="translate(698.3,472.7) scale(0.9,1)" font-size="9.2" font-weight="bold" text-anchor="end" fill="#1a1a1a" stroke="#1a1a1a" stroke-width="0.3">l/min</text>
<rect x="475.2" y="92.3" width="35" height="8.3" fill="#fff"/>
<text transform="translate(476.4,100.4) scale(0.84,1)" font-size="9.8" font-weight="bold" text-anchor="start" fill="#1a1a1a" stroke="#1a1a1a" stroke-width="0.3">3SR2/41</text>
<rect x="475.2" y="205.2" width="35" height="8.3" fill="#fff"/>
<text transform="translate(476.4,213.3) scale(0.84,1)" font-size="9.8" font-weight="bold" text-anchor="start" fill="#1a1a1a" stroke="#1a1a1a" stroke-width="0.3">3SR2/28</text>
<rect x="475.2" y="267.2" width="35" height="8.3" fill="#fff"/>
<text transform="translate(476.4,275.3) scale(0.84,1)" font-size="9.8" font-weight="bold" text-anchor="start" fill="#1a1a1a" stroke="#1a1a1a" stroke-width="0.3">3SR2/21</text>
<rect x="475.2" y="327.8" width="35" height="8.3" fill="#fff"/>
<text transform="translate(476.4,335.9) scale(0.84,1)" font-size="9.8" font-weight="bold" text-anchor="start" fill="#1a1a1a" stroke="#1a1a1a" stroke-width="0.3">3SR2/14</text>
<rect x="475.2" y="364.2" width="35" height="8.3" fill="#fff"/>
<text transform="translate(476.4,372.3) scale(0.84,1)" font-size="9.8" font-weight="bold" text-anchor="start" fill="#1a1a1a" stroke="#1a1a1a" stroke-width="0.3">3SR2/10</text>
<rect x="496.6" y="186.5" width="16" height="7.4" fill="#fff"/>
<text transform="translate(511.8,193.4) scale(0.78,1)" font-size="9.3" font-weight="bold" text-anchor="end" fill="#1a1a1a" stroke="#1a1a1a" stroke-width="0.25">44.4</text>
<rect x="673.7" y="195.7" width="16" height="7.4" fill="#fff"/>
<text transform="translate(674.5,202.6) scale(0.78,1)" font-size="9.3" font-weight="bold" text-anchor="start" fill="#1a1a1a" stroke="#1a1a1a" stroke-width="0.25">44.6</text>
<text transform="translate(585.8,94.7) scale(0.88,1)" font-size="10.2" font-weight="normal" text-anchor="start" fill="#1a1a1a" stroke="#1a1a1a" stroke-width="0.2">η</text>
<text transform="translate(592.2,94.7) scale(1.18,1)" font-size="9.6" font-weight="normal" text-anchor="start" fill="#1a1a1a" >=</text>
<text transform="translate(601.1,94.4) scale(0.96,1)" font-size="9.6" font-weight="bold" text-anchor="start" fill="#1a1a1a" stroke="#1a1a1a" stroke-width="0.3">60%</text>
<path d="M419.6,57.5H698.6" stroke="#000" stroke-width="1.1"/>
<text transform="translate(419.6,54) scale(0.78,1)" font-size="8.3" font-weight="normal" text-anchor="middle" fill="#222" stroke="#222" stroke-width="0.3">0</text>
<text transform="translate(440.72,54) scale(0.78,1)" font-size="8.3" font-weight="normal" text-anchor="middle" fill="#222" stroke="#222" stroke-width="0.3">1</text>
<text transform="translate(461.85,54) scale(0.78,1)" font-size="8.3" font-weight="normal" text-anchor="middle" fill="#222" stroke="#222" stroke-width="0.3">2</text>
<text transform="translate(482.97,54) scale(0.78,1)" font-size="8.3" font-weight="normal" text-anchor="middle" fill="#222" stroke="#222" stroke-width="0.3">3</text>
<text transform="translate(504.09,54) scale(0.78,1)" font-size="8.3" font-weight="normal" text-anchor="middle" fill="#222" stroke="#222" stroke-width="0.3">4</text>
<text transform="translate(525.21,54) scale(0.78,1)" font-size="8.3" font-weight="normal" text-anchor="middle" fill="#222" stroke="#222" stroke-width="0.3">5</text>
<text transform="translate(546.34,54) scale(0.78,1)" font-size="8.3" font-weight="normal" text-anchor="middle" fill="#222" stroke="#222" stroke-width="0.3">6</text>
<text transform="translate(567.46,54) scale(0.78,1)" font-size="8.3" font-weight="normal" text-anchor="middle" fill="#222" stroke="#222" stroke-width="0.3">7</text>
<text transform="translate(588.58,54) scale(0.78,1)" font-size="8.3" font-weight="normal" text-anchor="middle" fill="#222" stroke="#222" stroke-width="0.3">8</text>
<text transform="translate(609.7,54) scale(0.78,1)" font-size="8.3" font-weight="normal" text-anchor="middle" fill="#222" stroke="#222" stroke-width="0.3">9</text>
<text transform="translate(630.83,54) scale(0.78,1)" font-size="8.3" font-weight="normal" text-anchor="middle" fill="#222" stroke="#222" stroke-width="0.3">10</text>
<text transform="translate(651.95,54) scale(0.78,1)" font-size="8.3" font-weight="normal" text-anchor="middle" fill="#222" stroke="#222" stroke-width="0.3">11</text>
<path d="M419.6,57.5v-3.2M430.16,57.5v-2.8M440.72,57.5v-3.2M451.28,57.5v-2.8M461.85,57.5v-3.2M472.41,57.5v-2.8M482.97,57.5v-3.2M493.53,57.5v-2.8M504.09,57.5v-3.2M514.65,57.5v-2.8M525.21,57.5v-3.2M535.77,57.5v-2.8M546.34,57.5v-3.2M556.9,57.5v-2.8M567.46,57.5v-3.2M578.02,57.5v-2.8M588.58,57.5v-3.2M599.14,57.5v-2.8M609.7,57.5v-3.2M620.26,57.5v-2.8M630.83,57.5v-3.2M641.39,57.5v-2.8M651.95,57.5v-3.2M662.51,57.5v-2.8M673.07,57.5v-3.2M683.63,57.5v-2.8M694.19,57.5v-3.2" stroke="#111" stroke-width="1"/>
<text transform="translate(701.5,52.9) scale(0.73,1)" font-size="8.3" font-weight="normal" text-anchor="end" fill="#222" stroke="#222" stroke-width="0.3">US g.p.m.</text>
<text transform="translate(419.6,70.2) scale(0.78,1)" font-size="8.3" font-weight="normal" text-anchor="middle" fill="#222" stroke="#222" stroke-width="0.3">0</text>
<text transform="translate(444.97,70.2) scale(0.78,1)" font-size="8.3" font-weight="normal" text-anchor="middle" fill="#222" stroke="#222" stroke-width="0.3">1</text>
<text transform="translate(470.33,70.2) scale(0.78,1)" font-size="8.3" font-weight="normal" text-anchor="middle" fill="#222" stroke="#222" stroke-width="0.3">2</text>
<text transform="translate(495.7,70.2) scale(0.78,1)" font-size="8.3" font-weight="normal" text-anchor="middle" fill="#222" stroke="#222" stroke-width="0.3">3</text>
<text transform="translate(521.07,70.2) scale(0.78,1)" font-size="8.3" font-weight="normal" text-anchor="middle" fill="#222" stroke="#222" stroke-width="0.3">4</text>
<text transform="translate(546.44,70.2) scale(0.78,1)" font-size="8.3" font-weight="normal" text-anchor="middle" fill="#222" stroke="#222" stroke-width="0.3">5</text>
<text transform="translate(571.8,70.2) scale(0.78,1)" font-size="8.3" font-weight="normal" text-anchor="middle" fill="#222" stroke="#222" stroke-width="0.3">6</text>
<text transform="translate(597.17,70.2) scale(0.78,1)" font-size="8.3" font-weight="normal" text-anchor="middle" fill="#222" stroke="#222" stroke-width="0.3">7</text>
<text transform="translate(622.54,70.2) scale(0.78,1)" font-size="8.3" font-weight="normal" text-anchor="middle" fill="#222" stroke="#222" stroke-width="0.3">8</text>
<text transform="translate(647.9,70.2) scale(0.78,1)" font-size="8.3" font-weight="normal" text-anchor="middle" fill="#222" stroke="#222" stroke-width="0.3">9</text>
<path d="M419.6,74v-3M432.28,74v-3M444.97,74v-3M457.65,74v-3M470.33,74v-3M483.02,74v-3M495.7,74v-3M508.39,74v-3M521.07,74v-3M533.75,74v-3M546.44,74v-3M559.12,74v-3M571.8,74v-3M584.49,74v-3M597.17,74v-3M609.85,74v-3M622.54,74v-3M635.22,74v-3M647.9,74v-3M660.59,74v-3M673.27,74v-3M685.96,74v-3M698.64,74v-3" stroke="#111" stroke-width="1"/>
<text transform="translate(703.1,67.8) scale(0.795,1)" font-size="8.3" font-weight="normal" text-anchor="end" fill="#222" stroke="#222" stroke-width="0.3">Imp g.p.m.</text>
<text transform="translate(701.9,466.5) scale(0.75,1)" font-size="9.0" font-weight="normal" text-anchor="start" fill="#333" stroke="#333" stroke-width="0.25">0</text>
<text transform="translate(701.9,400.56) scale(0.75,1)" font-size="9.0" font-weight="normal" text-anchor="start" fill="#333" stroke="#333" stroke-width="0.25">100</text>
<text transform="translate(701.9,334.62) scale(0.75,1)" font-size="9.0" font-weight="normal" text-anchor="start" fill="#333" stroke="#333" stroke-width="0.25">200</text>
<text transform="translate(701.9,268.68) scale(0.75,1)" font-size="9.0" font-weight="normal" text-anchor="start" fill="#333" stroke="#333" stroke-width="0.25">300</text>
<text transform="translate(701.9,202.75) scale(0.75,1)" font-size="9.0" font-weight="normal" text-anchor="start" fill="#333" stroke="#333" stroke-width="0.25">400</text>
<text transform="translate(701.9,136.81) scale(0.75,1)" font-size="9.0" font-weight="normal" text-anchor="start" fill="#333" stroke="#333" stroke-width="0.25">500</text>
<path d="M698.6,463.4h2.7M698.6,450.21h2.7M698.6,437.02h2.7M698.6,423.84h2.7M698.6,410.65h2.7M698.6,397.46h2.7M698.6,384.27h2.7M698.6,371.09h2.7M698.6,357.9h2.7M698.6,344.71h2.7M698.6,331.52h2.7M698.6,318.34h2.7M698.6,305.15h2.7M698.6,291.96h2.7M698.6,278.77h2.7M698.6,265.58h2.7M698.6,252.4h2.7M698.6,239.21h2.7M698.6,226.02h2.7M698.6,212.83h2.7M698.6,199.65h2.7M698.6,186.46h2.7M698.6,173.27h2.7M698.6,160.08h2.7M698.6,146.9h2.7M698.6,133.71h2.7M698.6,120.52h2.7M698.6,107.33h2.7M698.6,94.14h2.7M698.6,80.96h2.7" stroke="#111" stroke-width="1"/>
<text transform="translate(702.5,80.8) scale(0.75,1)" font-size="9.0" font-weight="normal" text-anchor="start" fill="#333" stroke="#333" stroke-width="0.25">feet</text>
<path d="M419.6,479.5H698.6" stroke="#000" stroke-width="1.1"/>
<text transform="translate(419.6,489.8) scale(0.74,1)" font-size="8.8" font-weight="normal" text-anchor="middle" fill="#3a3a3a" stroke="#3a3a3a" stroke-width="0.25">0</text>
<text transform="translate(466.1,489.8) scale(0.74,1)" font-size="8.8" font-weight="normal" text-anchor="middle" fill="#3a3a3a" stroke="#3a3a3a" stroke-width="0.25">0.5</text>
<text transform="translate(512.6,489.8) scale(0.74,1)" font-size="8.8" font-weight="normal" text-anchor="middle" fill="#3a3a3a" stroke="#3a3a3a" stroke-width="0.25">1</text>
<text transform="translate(559.1,489.8) scale(0.74,1)" font-size="8.8" font-weight="normal" text-anchor="middle" fill="#3a3a3a" stroke="#3a3a3a" stroke-width="0.25">1.5</text>
<text transform="translate(605.6,489.8) scale(0.74,1)" font-size="8.8" font-weight="normal" text-anchor="middle" fill="#3a3a3a" stroke="#3a3a3a" stroke-width="0.25">2</text>
<text transform="translate(652.1,489.8) scale(0.74,1)" font-size="8.8" font-weight="normal" text-anchor="middle" fill="#3a3a3a" stroke="#3a3a3a" stroke-width="0.25">2.5</text>
<path d="M419.6,479.5v3M428.9,479.5v3M438.2,479.5v3M447.5,479.5v3M456.8,479.5v3M466.1,479.5v3M475.4,479.5v3M484.7,479.5v3M494,479.5v3M503.3,479.5v3M512.6,479.5v3M521.9,479.5v3M531.2,479.5v3M540.5,479.5v3M549.8,479.5v3M559.1,479.5v3M568.4,479.5v3M577.7,479.5v3M587,479.5v3M596.3,479.5v3M605.6,479.5v3M614.9,479.5v3M624.2,479.5v3M633.5,479.5v3M642.8,479.5v3M652.1,479.5v3M661.4,479.5v3M670.7,479.5v3M680,479.5v3M689.3,479.5v3M698.6,479.5v3" stroke="#111" stroke-width="1"/>
<text transform="translate(698.9,489.1) scale(0.86,1)" font-size="8.6" text-anchor="end" fill="#444" stroke="#444" stroke-width="0.15">m<tspan font-size="5.6" dy="-3">3</tspan><tspan dy="3">/h</tspan></text>
<text transform="translate(544.8,505.4) scale(0.97,1)" font-size="10.8" font-weight="bold" text-anchor="start" fill="#1a1a1a" stroke="#1a1a1a" stroke-width="0.3">Q</text>
<path d="M560.2,498.8v6.8l4.3,-3.4z" fill="#111"/>
<path d="M419.6,508.5H698.6" stroke="#000" stroke-width="1.1"/>
<text transform="translate(396.4,292.2) rotate(-90) scale(0.95,1)" font-size="11.6" font-weight="bold" fill="#1a1a1a" stroke="#1a1a1a" stroke-width="0.4" letter-spacing="0.35">H (m)</text>
<path d="M388.6,255.4h7.4l-3.7,-3.5z" fill="#111"/>
</g>
<g id="table-3sr1"><rect x="11.2" y="560.1" width="188.6" height="18.7" fill="#06327b"/><rect x="11.2" y="621.2" width="279.8" height="24.55" fill="#dce5ec"/><rect x="347.2" y="621.2" width="365.6" height="24.55" fill="#dce5ec"/><rect x="11.2" y="670.3" width="279.8" height="24.55" fill="#dce5ec"/><rect x="347.2" y="670.3" width="365.6" height="24.55" fill="#dce5ec"/><rect x="11.2" y="719.4" width="279.8" height="24.55" fill="#dce5ec"/><rect x="347.2" y="719.4" width="365.6" height="24.55" fill="#dce5ec"/><path d="M11.2,645.75H291.0M347.2,645.75H712.8M11.2,670.3H291.0M347.2,670.3H712.8M11.2,694.85H291.0M347.2,694.85H712.8M11.2,719.4H291.0M347.2,719.4H712.8" stroke="#bcbcbc" stroke-width="1" fill="none"/><path d="M11.2,583.2H712.8M11.2,621.2H712.8M11.2,743.95H712.8M309.5,602.3H712.8" stroke="#a6a6a6" stroke-width="1.25" fill="none"/><path d="M105.5,602.3V743.95M245.6,602.3V743.95M200.3,583.2V743.95M291.0,583.2V743.95M347.2,583.2V743.95M399.43,583.2V743.95M451.66,583.2V743.95M503.89,583.2V743.95M556.11,583.2V743.95M608.34,583.2V743.95M660.57,583.2V743.95" stroke="#a6a6a6" stroke-width="1" fill="none"/>
<text transform="translate(15.8,575.8) scale(0.92,1)" font-size="15.3" font-weight="bold" text-anchor="start" fill="#fff" stroke="#fff" stroke-width="0.20">3SR1</text>
<text transform="translate(105.75,596.9) scale(1.06,1)" font-size="10.7" font-weight="bold" text-anchor="middle" fill="#151515" stroke="#151515" stroke-width="0.25">MODEL</text>
<text transform="translate(15.6,616) scale(1.075,1)" font-size="10.7" font-weight="bold" text-anchor="start" fill="#151515" stroke="#151515" stroke-width="0.25">Single-phase</text>
<text transform="translate(109.6,616) scale(1.085,1)" font-size="10.7" font-weight="bold" text-anchor="start" fill="#151515" stroke="#151515" stroke-width="0.25">Three-phase</text>
<text transform="translate(245.65,596.9) scale(1.0,1)" font-size="10.5" font-weight="bold" text-anchor="middle" fill="#151515" stroke="#151515" stroke-width="0.25">POWER (P<tspan font-size="8.4">2</tspan>)</text>
<text transform="translate(222.95,615.6) scale(1.03,1)" font-size="10.5" font-weight="bold" text-anchor="middle" fill="#151515" stroke="#151515" stroke-width="0.25">kW</text>
<text transform="translate(268.3,615.6) scale(1.03,1)" font-size="10.5" font-weight="bold" text-anchor="middle" fill="#151515" stroke="#151515" stroke-width="0.25">HP</text>
<text transform="translate(296.3,607.5) scale(1.0,1)" font-size="11.2" font-weight="bold" text-anchor="start" fill="#151515" stroke="#151515" stroke-width="0.25">Q</text>
<text transform="translate(309.4,597.1) scale(1.0,1)" font-size="10.3" text-anchor="start" fill="#262626" stroke="#262626" stroke-width="0.22">m<tspan font-size="6.4" dy="-3.6">3</tspan><tspan dy="3.6">/h</tspan></text>
<text transform="translate(309.4,615.4) scale(1.05,1)" font-size="10.3" text-anchor="start" fill="#262626" stroke="#262626" stroke-width="0.22">l/min</text>
<text transform="translate(296.3,686.8) scale(1.0,1)" font-size="11.2" font-weight="bold" text-anchor="start" fill="#151515" stroke="#151515" stroke-width="0.25">H</text>
<text transform="translate(309.4,686.8) scale(0.99,1)" font-size="10.3" text-anchor="start" fill="#262626" stroke="#262626" stroke-width="0.22">metres</text>
<text transform="translate(373.31,597) scale(1.0,1)" font-size="9.9" text-anchor="middle" fill="#262626" stroke="#262626" stroke-width="0.22">0</text>
<text transform="translate(373.31,615.9) scale(1.0,1)" font-size="9.8" font-weight="bold" text-anchor="middle" fill="#151515" stroke="#151515" stroke-width="0.25">0</text>
<text transform="translate(425.54,597) scale(1.0,1)" font-size="9.9" text-anchor="middle" fill="#262626" stroke="#262626" stroke-width="0.22">0.3</text>
<text transform="translate(425.54,615.9) scale(1.0,1)" font-size="9.8" font-weight="bold" text-anchor="middle" fill="#151515" stroke="#151515" stroke-width="0.25">5</text>
<text transform="translate(477.77,597) scale(1.0,1)" font-size="9.9" text-anchor="middle" fill="#262626" stroke="#262626" stroke-width="0.22">0.6</text>
<text transform="translate(477.77,615.9) scale(1.0,1)" font-size="9.8" font-weight="bold" text-anchor="middle" fill="#151515" stroke="#151515" stroke-width="0.25">10</text>
<text transform="translate(530,597) scale(1.0,1)" font-size="9.9" text-anchor="middle" fill="#262626" stroke="#262626" stroke-width="0.22">0.9</text>
<text transform="translate(530,615.9) scale(1.0,1)" font-size="9.8" font-weight="bold" text-anchor="middle" fill="#151515" stroke="#151515" stroke-width="0.25">15</text>
<text transform="translate(582.23,597) scale(1.0,1)" font-size="9.9" text-anchor="middle" fill="#262626" stroke="#262626" stroke-width="0.22">1.2</text>
<text transform="translate(582.23,615.9) scale(1.0,1)" font-size="9.8" font-weight="bold" text-anchor="middle" fill="#151515" stroke="#151515" stroke-width="0.25">20</text>
<text transform="translate(634.46,597) scale(1.0,1)" font-size="9.9" text-anchor="middle" fill="#262626" stroke="#262626" stroke-width="0.22">1.5</text>
<text transform="translate(634.46,615.9) scale(1.0,1)" font-size="9.8" font-weight="bold" text-anchor="middle" fill="#151515" stroke="#151515" stroke-width="0.25">25</text>
<text transform="translate(686.69,597) scale(1.0,1)" font-size="9.9" text-anchor="middle" fill="#262626" stroke="#262626" stroke-width="0.22">1.8</text>
<text transform="translate(686.69,615.9) scale(1.0,1)" font-size="9.8" font-weight="bold" text-anchor="middle" fill="#151515" stroke="#151515" stroke-width="0.25">30</text>
<text transform="translate(15.6,637.4) scale(1.035,1)" font-size="10.5" font-weight="bold" text-anchor="start" fill="#151515" stroke="#151515" stroke-width="0.25">3SRm 1/14</text>
<text transform="translate(109.6,637.4) scale(1.035,1)" font-size="10.5" font-weight="bold" text-anchor="start" fill="#151515" stroke="#151515" stroke-width="0.25">3SR 1/14</text>
<text transform="translate(222.95,637.7) scale(1.0,1)" font-size="10.5" text-anchor="middle" fill="#262626" stroke="#262626" stroke-width="0.22">0.25</text>
<text transform="translate(268.3,637.7) scale(1.0,1)" font-size="10.5" text-anchor="middle" fill="#262626" stroke="#262626" stroke-width="0.22">0.33</text>
<text transform="translate(373.31,637.7) scale(1.0,1)" font-size="9.9" text-anchor="middle" fill="#262626" stroke="#262626" stroke-width="0.22">60</text>
<text transform="translate(425.54,637.7) scale(1.0,1)" font-size="9.9" text-anchor="middle" fill="#262626" stroke="#262626" stroke-width="0.22">57</text>
<text transform="translate(477.77,637.7) scale(1.0,1)" font-size="9.9" text-anchor="middle" fill="#262626" stroke="#262626" stroke-width="0.22">52</text>
<text transform="translate(530,637.7) scale(1.0,1)" font-size="9.9" text-anchor="middle" fill="#262626" stroke="#262626" stroke-width="0.22">45.5</text>
<text transform="translate(582.23,637.7) scale(1.0,1)" font-size="9.9" text-anchor="middle" fill="#262626" stroke="#262626" stroke-width="0.22">37.5</text>
<text transform="translate(634.46,637.7) scale(1.0,1)" font-size="9.9" text-anchor="middle" fill="#262626" stroke="#262626" stroke-width="0.22">28</text>
<text transform="translate(686.69,637.7) scale(1.0,1)" font-size="9.9" text-anchor="middle" fill="#262626" stroke="#262626" stroke-width="0.22">16</text>
<text transform="translate(15.6,662.45) scale(1.035,1)" font-size="10.5" font-weight="bold" text-anchor="start" fill="#151515" stroke="#151515" stroke-width="0.25">3SRm 1/21</text>
<text transform="translate(109.6,662.45) scale(1.035,1)" font-size="10.5" font-weight="bold" text-anchor="start" fill="#151515" stroke="#151515" stroke-width="0.25">3SR 1/21</text>
<text transform="translate(222.95,662.75) scale(1.0,1)" font-size="10.5" text-anchor="middle" fill="#262626" stroke="#262626" stroke-width="0.22">0.37</text>
<text transform="translate(268.3,662.75) scale(1.0,1)" font-size="10.5" text-anchor="middle" fill="#262626" stroke="#262626" stroke-width="0.22">0.50</text>
<text transform="translate(373.31,662.75) scale(1.0,1)" font-size="9.9" text-anchor="middle" fill="#262626" stroke="#262626" stroke-width="0.22">90</text>
<text transform="translate(425.54,662.75) scale(1.0,1)" font-size="9.9" text-anchor="middle" fill="#262626" stroke="#262626" stroke-width="0.22">85</text>
<text transform="translate(477.77,662.75) scale(1.0,1)" font-size="9.9" text-anchor="middle" fill="#262626" stroke="#262626" stroke-width="0.22">78</text>
<text transform="translate(530,662.75) scale(1.0,1)" font-size="9.9" text-anchor="middle" fill="#262626" stroke="#262626" stroke-width="0.22">68.5</text>
<text transform="translate(582.23,662.75) scale(1.0,1)" font-size="9.9" text-anchor="middle" fill="#262626" stroke="#262626" stroke-width="0.22">56.5</text>
<text transform="translate(634.46,662.75) scale(1.0,1)" font-size="9.9" text-anchor="middle" fill="#262626" stroke="#262626" stroke-width="0.22">41.5</text>
<text transform="translate(686.69,662.75) scale(1.0,1)" font-size="9.9" text-anchor="middle" fill="#262626" stroke="#262626" stroke-width="0.22">24</text>
<text transform="translate(15.6,686.5) scale(1.035,1)" font-size="10.5" font-weight="bold" text-anchor="start" fill="#151515" stroke="#151515" stroke-width="0.25">3SRm 1/31</text>
<text transform="translate(109.6,686.5) scale(1.035,1)" font-size="10.5" font-weight="bold" text-anchor="start" fill="#151515" stroke="#151515" stroke-width="0.25">3SR 1/31</text>
<text transform="translate(222.95,686.8) scale(1.0,1)" font-size="10.5" text-anchor="middle" fill="#262626" stroke="#262626" stroke-width="0.22">0.55</text>
<text transform="translate(268.3,686.8) scale(1.0,1)" font-size="10.5" text-anchor="middle" fill="#262626" stroke="#262626" stroke-width="0.22">0.75</text>
<text transform="translate(373.31,686.8) scale(1.0,1)" font-size="9.9" text-anchor="middle" fill="#262626" stroke="#262626" stroke-width="0.22">133</text>
<text transform="translate(425.54,686.8) scale(1.0,1)" font-size="9.9" text-anchor="middle" fill="#262626" stroke="#262626" stroke-width="0.22">126</text>
<text transform="translate(477.77,686.8) scale(1.0,1)" font-size="9.9" text-anchor="middle" fill="#262626" stroke="#262626" stroke-width="0.22">115</text>
<text transform="translate(530,686.8) scale(1.0,1)" font-size="9.9" text-anchor="middle" fill="#262626" stroke="#262626" stroke-width="0.22">101</text>
<text transform="translate(582.23,686.8) scale(1.0,1)" font-size="9.9" text-anchor="middle" fill="#262626" stroke="#262626" stroke-width="0.22">83</text>
<text transform="translate(634.46,686.8) scale(1.0,1)" font-size="9.9" text-anchor="middle" fill="#262626" stroke="#262626" stroke-width="0.22">61.5</text>
<text transform="translate(686.69,686.8) scale(1.0,1)" font-size="9.9" text-anchor="middle" fill="#262626" stroke="#262626" stroke-width="0.22">35</text>
<text transform="translate(15.6,711.55) scale(1.035,1)" font-size="10.5" font-weight="bold" text-anchor="start" fill="#151515" stroke="#151515" stroke-width="0.25">3SRm 1/42</text>
<text transform="translate(109.6,711.55) scale(1.035,1)" font-size="10.5" font-weight="bold" text-anchor="start" fill="#151515" stroke="#151515" stroke-width="0.25">3SR 1/42</text>
<text transform="translate(222.95,711.85) scale(1.0,1)" font-size="10.5" text-anchor="middle" fill="#262626" stroke="#262626" stroke-width="0.22">0.75</text>
<text transform="translate(268.3,711.85) scale(1.0,1)" font-size="10.5" text-anchor="middle" fill="#262626" stroke="#262626" stroke-width="0.22">1</text>
<text transform="translate(373.31,711.85) scale(1.0,1)" font-size="9.9" text-anchor="middle" fill="#262626" stroke="#262626" stroke-width="0.22">181</text>
<text transform="translate(425.54,711.85) scale(1.0,1)" font-size="9.9" text-anchor="middle" fill="#262626" stroke="#262626" stroke-width="0.22">170</text>
<text transform="translate(477.77,711.85) scale(1.0,1)" font-size="9.9" text-anchor="middle" fill="#262626" stroke="#262626" stroke-width="0.22">156</text>
<text transform="translate(530,711.85) scale(1.0,1)" font-size="9.9" text-anchor="middle" fill="#262626" stroke="#262626" stroke-width="0.22">137</text>
<text transform="translate(582.23,711.85) scale(1.0,1)" font-size="9.9" text-anchor="middle" fill="#262626" stroke="#262626" stroke-width="0.22">113</text>
<text transform="translate(634.46,711.85) scale(1.0,1)" font-size="9.9" text-anchor="middle" fill="#262626" stroke="#262626" stroke-width="0.22">83</text>
<text transform="translate(686.69,711.85) scale(1.0,1)" font-size="9.9" text-anchor="middle" fill="#262626" stroke="#262626" stroke-width="0.22">47.5</text>
<text transform="translate(15.6,735.6) scale(1.035,1)" font-size="10.5" font-weight="bold" text-anchor="start" fill="#151515" stroke="#151515" stroke-width="0.25">3SRm 1/62</text>
<text transform="translate(109.6,735.6) scale(1.035,1)" font-size="10.5" font-weight="bold" text-anchor="start" fill="#151515" stroke="#151515" stroke-width="0.25">3SR 1/62</text>
<text transform="translate(222.95,735.9) scale(1.0,1)" font-size="10.5" text-anchor="middle" fill="#262626" stroke="#262626" stroke-width="0.22">1.1</text>
<text transform="translate(268.3,735.9) scale(1.0,1)" font-size="10.5" text-anchor="middle" fill="#262626" stroke="#262626" stroke-width="0.22">1.5</text>
<text transform="translate(373.31,735.9) scale(1.0,1)" font-size="9.9" text-anchor="middle" fill="#262626" stroke="#262626" stroke-width="0.22">267</text>
<text transform="translate(425.54,735.9) scale(1.0,1)" font-size="9.9" text-anchor="middle" fill="#262626" stroke="#262626" stroke-width="0.22">252</text>
<text transform="translate(477.77,735.9) scale(1.0,1)" font-size="9.9" text-anchor="middle" fill="#262626" stroke="#262626" stroke-width="0.22">230</text>
<text transform="translate(530,735.9) scale(1.0,1)" font-size="9.9" text-anchor="middle" fill="#262626" stroke="#262626" stroke-width="0.22">203</text>
<text transform="translate(582.23,735.9) scale(1.0,1)" font-size="9.9" text-anchor="middle" fill="#262626" stroke="#262626" stroke-width="0.22">167</text>
<text transform="translate(634.46,735.9) scale(1.0,1)" font-size="9.9" text-anchor="middle" fill="#262626" stroke="#262626" stroke-width="0.22">123</text>
<text transform="translate(686.69,735.9) scale(1.0,1)" font-size="9.9" text-anchor="middle" fill="#262626" stroke="#262626" stroke-width="0.22">70</text></g>
<g id="table-3sr2"><rect x="11.2" y="783.3" width="188.6" height="18.7" fill="#06327b"/><rect x="11.2" y="844.4" width="279.8" height="24.55" fill="#dce5ec"/><rect x="347.2" y="844.4" width="365.6" height="24.55" fill="#dce5ec"/><rect x="11.2" y="893.5" width="279.8" height="24.55" fill="#dce5ec"/><rect x="347.2" y="893.5" width="365.6" height="24.55" fill="#dce5ec"/><rect x="11.2" y="942.6" width="279.8" height="24.55" fill="#dce5ec"/><rect x="347.2" y="942.6" width="365.6" height="24.55" fill="#dce5ec"/><path d="M11.2,868.95H291.0M347.2,868.95H712.8M11.2,893.5H291.0M347.2,893.5H712.8M11.2,918.05H291.0M347.2,918.05H712.8M11.2,942.6H291.0M347.2,942.6H712.8" stroke="#bcbcbc" stroke-width="1" fill="none"/><path d="M11.2,806.4H712.8M11.2,844.4H712.8M11.2,967.15H712.8M309.5,825.5H712.8" stroke="#a6a6a6" stroke-width="1.25" fill="none"/><path d="M105.5,825.5V967.15M245.6,825.5V967.15M200.3,806.4V967.15M291.0,806.4V967.15M347.2,806.4V967.15M387.82,806.4V967.15M428.44,806.4V967.15M469.07,806.4V967.15M509.69,806.4V967.15M550.31,806.4V967.15M590.93,806.4V967.15M631.56,806.4V967.15M672.18,806.4V967.15" stroke="#a6a6a6" stroke-width="1" fill="none"/>
<text transform="translate(15.8,799) scale(0.975,1)" font-size="15.3" font-weight="bold" text-anchor="start" fill="#fff" stroke="#fff" stroke-width="0.20">3SR2</text>
<text transform="translate(105.75,820.1) scale(1.06,1)" font-size="10.7" font-weight="bold" text-anchor="middle" fill="#151515" stroke="#151515" stroke-width="0.25">MODEL</text>
<text transform="translate(15.6,839.2) scale(1.075,1)" font-size="10.7" font-weight="bold" text-anchor="start" fill="#151515" stroke="#151515" stroke-width="0.25">Single-phase</text>
<text transform="translate(109.6,839.2) scale(1.085,1)" font-size="10.7" font-weight="bold" text-anchor="start" fill="#151515" stroke="#151515" stroke-width="0.25">Three-phase</text>
<text transform="translate(245.65,820.1) scale(1.0,1)" font-size="10.5" font-weight="bold" text-anchor="middle" fill="#151515" stroke="#151515" stroke-width="0.25">POWER (P<tspan font-size="8.4">2</tspan>)</text>
<text transform="translate(222.95,838.8) scale(1.03,1)" font-size="10.5" font-weight="bold" text-anchor="middle" fill="#151515" stroke="#151515" stroke-width="0.25">kW</text>
<text transform="translate(268.3,838.8) scale(1.03,1)" font-size="10.5" font-weight="bold" text-anchor="middle" fill="#151515" stroke="#151515" stroke-width="0.25">HP</text>
<text transform="translate(296.3,830.7) scale(1.0,1)" font-size="11.2" font-weight="bold" text-anchor="start" fill="#151515" stroke="#151515" stroke-width="0.25">Q</text>
<text transform="translate(309.4,820.3) scale(1.0,1)" font-size="10.3" text-anchor="start" fill="#262626" stroke="#262626" stroke-width="0.22">m<tspan font-size="6.4" dy="-3.6">3</tspan><tspan dy="3.6">/h</tspan></text>
<text transform="translate(309.4,838.6) scale(1.05,1)" font-size="10.3" text-anchor="start" fill="#262626" stroke="#262626" stroke-width="0.22">l/min</text>
<text transform="translate(296.3,910) scale(1.0,1)" font-size="11.2" font-weight="bold" text-anchor="start" fill="#151515" stroke="#151515" stroke-width="0.25">H</text>
<text transform="translate(309.4,910) scale(0.99,1)" font-size="10.3" text-anchor="start" fill="#262626" stroke="#262626" stroke-width="0.22">metres</text>
<text transform="translate(367.51,820.2) scale(1.0,1)" font-size="9.9" text-anchor="middle" fill="#262626" stroke="#262626" stroke-width="0.22">0</text>
<text transform="translate(367.51,839.1) scale(1.0,1)" font-size="9.8" font-weight="bold" text-anchor="middle" fill="#151515" stroke="#151515" stroke-width="0.25">0</text>
<text transform="translate(408.13,820.2) scale(1.0,1)" font-size="9.9" text-anchor="middle" fill="#262626" stroke="#262626" stroke-width="0.22">0.6</text>
<text transform="translate(408.13,839.1) scale(1.0,1)" font-size="9.8" font-weight="bold" text-anchor="middle" fill="#151515" stroke="#151515" stroke-width="0.25">10</text>
<text transform="translate(448.76,820.2) scale(1.0,1)" font-size="9.9" text-anchor="middle" fill="#262626" stroke="#262626" stroke-width="0.22">0.9</text>
<text transform="translate(448.76,839.1) scale(1.0,1)" font-size="9.8" font-weight="bold" text-anchor="middle" fill="#151515" stroke="#151515" stroke-width="0.25">15</text>
<text transform="translate(489.38,820.2) scale(1.0,1)" font-size="9.9" text-anchor="middle" fill="#262626" stroke="#262626" stroke-width="0.22">1.2</text>
<text transform="translate(489.38,839.1) scale(1.0,1)" font-size="9.8" font-weight="bold" text-anchor="middle" fill="#151515" stroke="#151515" stroke-width="0.25">20</text>
<text transform="translate(530,820.2) scale(1.0,1)" font-size="9.9" text-anchor="middle" fill="#262626" stroke="#262626" stroke-width="0.22">1.5</text>
<text transform="translate(530,839.1) scale(1.0,1)" font-size="9.8" font-weight="bold" text-anchor="middle" fill="#151515" stroke="#151515" stroke-width="0.25">25</text>
<text transform="translate(570.62,820.2) scale(1.0,1)" font-size="9.9" text-anchor="middle" fill="#262626" stroke="#262626" stroke-width="0.22">1.8</text>
<text transform="translate(570.62,839.1) scale(1.0,1)" font-size="9.8" font-weight="bold" text-anchor="middle" fill="#151515" stroke="#151515" stroke-width="0.25">30</text>
<text transform="translate(611.24,820.2) scale(1.0,1)" font-size="9.9" text-anchor="middle" fill="#262626" stroke="#262626" stroke-width="0.22">2.1</text>
<text transform="translate(611.24,839.1) scale(1.0,1)" font-size="9.8" font-weight="bold" text-anchor="middle" fill="#151515" stroke="#151515" stroke-width="0.25">35</text>
<text transform="translate(651.87,820.2) scale(1.0,1)" font-size="9.9" text-anchor="middle" fill="#262626" stroke="#262626" stroke-width="0.22">2.4</text>
<text transform="translate(651.87,839.1) scale(1.0,1)" font-size="9.8" font-weight="bold" text-anchor="middle" fill="#151515" stroke="#151515" stroke-width="0.25">40</text>
<text transform="translate(692.49,820.2) scale(1.0,1)" font-size="9.9" text-anchor="middle" fill="#262626" stroke="#262626" stroke-width="0.22">2.7</text>
<text transform="translate(692.49,839.1) scale(1.0,1)" font-size="9.8" font-weight="bold" text-anchor="middle" fill="#151515" stroke="#151515" stroke-width="0.25">45</text>
<text transform="translate(15.6,860.6) scale(1.035,1)" font-size="10.5" font-weight="bold" text-anchor="start" fill="#151515" stroke="#151515" stroke-width="0.25">3SRm 2/10</text>
<text transform="translate(109.6,860.6) scale(1.035,1)" font-size="10.5" font-weight="bold" text-anchor="start" fill="#151515" stroke="#151515" stroke-width="0.25">3SR 2/10</text>
<text transform="translate(222.95,860.9) scale(1.0,1)" font-size="10.5" text-anchor="middle" fill="#262626" stroke="#262626" stroke-width="0.22">0.25</text>
<text transform="translate(268.3,860.9) scale(1.0,1)" font-size="10.5" text-anchor="middle" fill="#262626" stroke="#262626" stroke-width="0.22">0.33</text>
<text transform="translate(367.51,860.9) scale(1.0,1)" font-size="9.9" text-anchor="middle" fill="#262626" stroke="#262626" stroke-width="0.22">41.5</text>
<text transform="translate(408.13,860.9) scale(1.0,1)" font-size="9.9" text-anchor="middle" fill="#262626" stroke="#262626" stroke-width="0.22">40.5</text>
<text transform="translate(448.76,860.9) scale(1.0,1)" font-size="9.9" text-anchor="middle" fill="#262626" stroke="#262626" stroke-width="0.22">39.5</text>
<text transform="translate(489.38,860.9) scale(1.0,1)" font-size="9.9" text-anchor="middle" fill="#262626" stroke="#262626" stroke-width="0.22">38</text>
<text transform="translate(530,860.9) scale(1.0,1)" font-size="9.9" text-anchor="middle" fill="#262626" stroke="#262626" stroke-width="0.22">35.5</text>
<text transform="translate(570.62,860.9) scale(1.0,1)" font-size="9.9" text-anchor="middle" fill="#262626" stroke="#262626" stroke-width="0.22">32</text>
<text transform="translate(611.24,860.9) scale(1.0,1)" font-size="9.9" text-anchor="middle" fill="#262626" stroke="#262626" stroke-width="0.22">28</text>
<text transform="translate(651.87,860.9) scale(1.0,1)" font-size="9.9" text-anchor="middle" fill="#262626" stroke="#262626" stroke-width="0.22">22.3</text>
<text transform="translate(692.49,860.9) scale(1.0,1)" font-size="9.9" text-anchor="middle" fill="#262626" stroke="#262626" stroke-width="0.22">15.5</text>
<text transform="translate(15.6,885.65) scale(1.035,1)" font-size="10.5" font-weight="bold" text-anchor="start" fill="#151515" stroke="#151515" stroke-width="0.25">3SRm 2/14</text>
<text transform="translate(109.6,885.65) scale(1.035,1)" font-size="10.5" font-weight="bold" text-anchor="start" fill="#151515" stroke="#151515" stroke-width="0.25">3SR 2/14</text>
<text transform="translate(222.95,885.95) scale(1.0,1)" font-size="10.5" text-anchor="middle" fill="#262626" stroke="#262626" stroke-width="0.22">0.37</text>
<text transform="translate(268.3,885.95) scale(1.0,1)" font-size="10.5" text-anchor="middle" fill="#262626" stroke="#262626" stroke-width="0.22">0.50</text>
<text transform="translate(367.51,885.95) scale(1.0,1)" font-size="9.9" text-anchor="middle" fill="#262626" stroke="#262626" stroke-width="0.22">58</text>
<text transform="translate(408.13,885.95) scale(1.0,1)" font-size="9.9" text-anchor="middle" fill="#262626" stroke="#262626" stroke-width="0.22">57</text>
<text transform="translate(448.76,885.95) scale(1.0,1)" font-size="9.9" text-anchor="middle" fill="#262626" stroke="#262626" stroke-width="0.22">55.5</text>
<text transform="translate(489.38,885.95) scale(1.0,1)" font-size="9.9" text-anchor="middle" fill="#262626" stroke="#262626" stroke-width="0.22">53</text>
<text transform="translate(530,885.95) scale(1.0,1)" font-size="9.9" text-anchor="middle" fill="#262626" stroke="#262626" stroke-width="0.22">49.5</text>
<text transform="translate(570.62,885.95) scale(1.0,1)" font-size="9.9" text-anchor="middle" fill="#262626" stroke="#262626" stroke-width="0.22">45</text>
<text transform="translate(611.24,885.95) scale(1.0,1)" font-size="9.9" text-anchor="middle" fill="#262626" stroke="#262626" stroke-width="0.22">39</text>
<text transform="translate(651.87,885.95) scale(1.0,1)" font-size="9.9" text-anchor="middle" fill="#262626" stroke="#262626" stroke-width="0.22">31</text>
<text transform="translate(692.49,885.95) scale(1.0,1)" font-size="9.9" text-anchor="middle" fill="#262626" stroke="#262626" stroke-width="0.22">22</text>
<text transform="translate(15.6,909.7) scale(1.035,1)" font-size="10.5" font-weight="bold" text-anchor="start" fill="#151515" stroke="#151515" stroke-width="0.25">3SRm 2/21</text>
<text transform="translate(109.6,909.7) scale(1.035,1)" font-size="10.5" font-weight="bold" text-anchor="start" fill="#151515" stroke="#151515" stroke-width="0.25">3SR 2/21</text>
<text transform="translate(222.95,910) scale(1.0,1)" font-size="10.5" text-anchor="middle" fill="#262626" stroke="#262626" stroke-width="0.22">0.55</text>
<text transform="translate(268.3,910) scale(1.0,1)" font-size="10.5" text-anchor="middle" fill="#262626" stroke="#262626" stroke-width="0.22">0.75</text>
<text transform="translate(367.51,910) scale(1.0,1)" font-size="9.9" text-anchor="middle" fill="#262626" stroke="#262626" stroke-width="0.22">87</text>
<text transform="translate(408.13,910) scale(1.0,1)" font-size="9.9" text-anchor="middle" fill="#262626" stroke="#262626" stroke-width="0.22">85</text>
<text transform="translate(448.76,910) scale(1.0,1)" font-size="9.9" text-anchor="middle" fill="#262626" stroke="#262626" stroke-width="0.22">83</text>
<text transform="translate(489.38,910) scale(1.0,1)" font-size="9.9" text-anchor="middle" fill="#262626" stroke="#262626" stroke-width="0.22">80</text>
<text transform="translate(530,910) scale(1.0,1)" font-size="9.9" text-anchor="middle" fill="#262626" stroke="#262626" stroke-width="0.22">74</text>
<text transform="translate(570.62,910) scale(1.0,1)" font-size="9.9" text-anchor="middle" fill="#262626" stroke="#262626" stroke-width="0.22">67.5</text>
<text transform="translate(611.24,910) scale(1.0,1)" font-size="9.9" text-anchor="middle" fill="#262626" stroke="#262626" stroke-width="0.22">58.5</text>
<text transform="translate(651.87,910) scale(1.0,1)" font-size="9.9" text-anchor="middle" fill="#262626" stroke="#262626" stroke-width="0.22">47</text>
<text transform="translate(692.49,910) scale(1.0,1)" font-size="9.9" text-anchor="middle" fill="#262626" stroke="#262626" stroke-width="0.22">33</text>
<text transform="translate(15.6,934.75) scale(1.035,1)" font-size="10.5" font-weight="bold" text-anchor="start" fill="#151515" stroke="#151515" stroke-width="0.25">3SRm 2/28</text>
<text transform="translate(109.6,934.75) scale(1.035,1)" font-size="10.5" font-weight="bold" text-anchor="start" fill="#151515" stroke="#151515" stroke-width="0.25">3SR 2/28</text>
<text transform="translate(222.95,935.05) scale(1.0,1)" font-size="10.5" text-anchor="middle" fill="#262626" stroke="#262626" stroke-width="0.22">0.75</text>
<text transform="translate(268.3,935.05) scale(1.0,1)" font-size="10.5" text-anchor="middle" fill="#262626" stroke="#262626" stroke-width="0.22">1</text>
<text transform="translate(367.51,935.05) scale(1.0,1)" font-size="9.9" text-anchor="middle" fill="#262626" stroke="#262626" stroke-width="0.22">116</text>
<text transform="translate(408.13,935.05) scale(1.0,1)" font-size="9.9" text-anchor="middle" fill="#262626" stroke="#262626" stroke-width="0.22">114</text>
<text transform="translate(448.76,935.05) scale(1.0,1)" font-size="9.9" text-anchor="middle" fill="#262626" stroke="#262626" stroke-width="0.22">111</text>
<text transform="translate(489.38,935.05) scale(1.0,1)" font-size="9.9" text-anchor="middle" fill="#262626" stroke="#262626" stroke-width="0.22">106</text>
<text transform="translate(530,935.05) scale(1.0,1)" font-size="9.9" text-anchor="middle" fill="#262626" stroke="#262626" stroke-width="0.22">99</text>
<text transform="translate(570.62,935.05) scale(1.0,1)" font-size="9.9" text-anchor="middle" fill="#262626" stroke="#262626" stroke-width="0.22">90</text>
<text transform="translate(611.24,935.05) scale(1.0,1)" font-size="9.9" text-anchor="middle" fill="#262626" stroke="#262626" stroke-width="0.22">78</text>
<text transform="translate(651.87,935.05) scale(1.0,1)" font-size="9.9" text-anchor="middle" fill="#262626" stroke="#262626" stroke-width="0.22">62.5</text>
<text transform="translate(692.49,935.05) scale(1.0,1)" font-size="9.9" text-anchor="middle" fill="#262626" stroke="#262626" stroke-width="0.22">44</text>
<text transform="translate(15.6,958.8) scale(1.035,1)" font-size="10.5" font-weight="bold" text-anchor="start" fill="#151515" stroke="#151515" stroke-width="0.25">3SRm 2/41</text>
<text transform="translate(109.6,958.8) scale(1.035,1)" font-size="10.5" font-weight="bold" text-anchor="start" fill="#151515" stroke="#151515" stroke-width="0.25">3SR 2/41</text>
<text transform="translate(222.95,959.1) scale(1.0,1)" font-size="10.5" text-anchor="middle" fill="#262626" stroke="#262626" stroke-width="0.22">1.1</text>
<text transform="translate(268.3,959.1) scale(1.0,1)" font-size="10.5" text-anchor="middle" fill="#262626" stroke="#262626" stroke-width="0.22">1.5</text>
<text transform="translate(367.51,959.1) scale(1.0,1)" font-size="9.9" text-anchor="middle" fill="#262626" stroke="#262626" stroke-width="0.22">169</text>
<text transform="translate(408.13,959.1) scale(1.0,1)" font-size="9.9" text-anchor="middle" fill="#262626" stroke="#262626" stroke-width="0.22">166</text>
<text transform="translate(448.76,959.1) scale(1.0,1)" font-size="9.9" text-anchor="middle" fill="#262626" stroke="#262626" stroke-width="0.22">162</text>
<text transform="translate(489.38,959.1) scale(1.0,1)" font-size="9.9" text-anchor="middle" fill="#262626" stroke="#262626" stroke-width="0.22">155</text>
<text transform="translate(530,959.1) scale(1.0,1)" font-size="9.9" text-anchor="middle" fill="#262626" stroke="#262626" stroke-width="0.22">145</text>
<text transform="translate(570.62,959.1) scale(1.0,1)" font-size="9.9" text-anchor="middle" fill="#262626" stroke="#262626" stroke-width="0.22">132</text>
<text transform="translate(611.24,959.1) scale(1.0,1)" font-size="9.9" text-anchor="middle" fill="#262626" stroke="#262626" stroke-width="0.22">114</text>
<text transform="translate(651.87,959.1) scale(1.0,1)" font-size="9.9" text-anchor="middle" fill="#262626" stroke="#262626" stroke-width="0.22">92</text>
<text transform="translate(692.49,959.1) scale(1.0,1)" font-size="9.9" text-anchor="middle" fill="#262626" stroke="#262626" stroke-width="0.22">64</text></g>
<g id="footer"><text transform="translate(11.5,982.2) scale(1.0,1)" font-size="8.8" text-anchor="start" fill="#262626" stroke="#262626" stroke-width="0.22"><tspan font-weight="bold" fill="#151515">Q</tspan> = Flow rate</text><text transform="translate(73.6,982.2) scale(1.02,1)" font-size="8.8" text-anchor="start" fill="#262626" stroke="#262626" stroke-width="0.22"><tspan font-weight="bold" fill="#151515">H</tspan> = Total manometric head</text><text transform="translate(714.9,981.9) scale(0.994,1)" font-size="8.8" text-anchor="end" fill="#262626" stroke="#262626" stroke-width="0.22">Tolerance of characteristic curves in compliance with EN ISO 9906 Grade 3B.</text></g>
</svg>
</body></html>
